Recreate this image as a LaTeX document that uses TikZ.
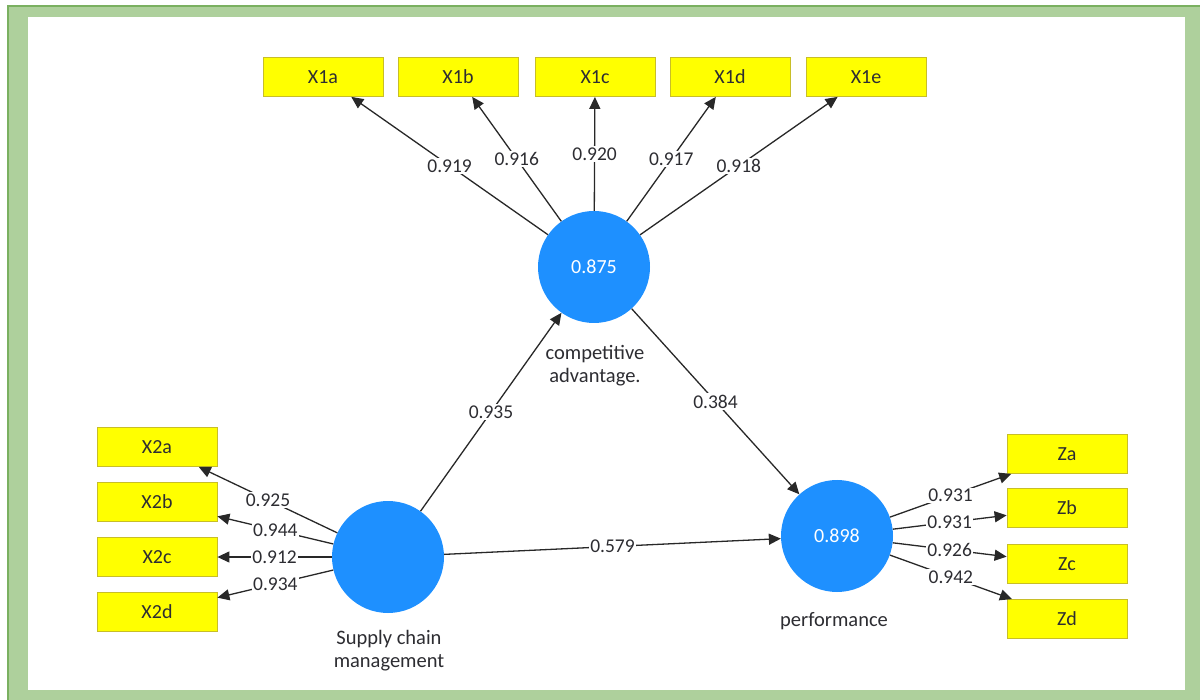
\documentclass[tikz,border=0pt]{standalone}
\usepackage{fontspec}
\setmainfont{Carlito}
\usetikzlibrary{arrows.meta}
\definecolor{gfill}{RGB}{174,208,156}
\definecolor{gline}{RGB}{122,176,96}
\definecolor{boxy}{RGB}{255,255,0}
\definecolor{boxline}{RGB}{200,190,40}
\definecolor{lvblue}{RGB}{30,144,255}
\definecolor{txt}{RGB}{45,45,50}
\definecolor{edgec}{RGB}{40,40,40}
\tikzset{
  ind/.style={draw=boxline, line width=0.8pt, fill=boxy, minimum width=120pt, minimum height=39pt, inner sep=0pt, font=\fontsize{20}{22}\selectfont, text=txt},
  lv/.style={circle, fill=lvblue, minimum size=112pt, inner sep=0pt, font=\fontsize{20}{22}\selectfont, text=white},
  lvname/.style={align=center, font=\fontsize{20.5}{23}\selectfont, text=txt},
  conn/.style={draw=edgec, line width=1.3pt, -{Triangle[length=12pt,width=11pt]}},
  wt/.style={fill=white, inner sep=1.5pt, font=\fontsize{19.5}{22}\selectfont, text=txt, midway}
}
\begin{document}
\begin{tikzpicture}[x=1pt,y=-1pt]
\useasboundingbox (0,0) rectangle (1200,700);
\fill[white] (0,0) rectangle (1200,700);
\fill[gfill] (8,6) rectangle (1200,700);
\draw[gline, line width=1.5pt] (8,700) -- (8,6) -- (1200,6);
\fill[white] (28,17) rectangle (1185,690);

% latent variables
\node[lv] (ca) at (594,267) {0.875};
\node[lv] (scm) at (388,557) {};
\node[lv] (perf) at (837,536) {0.898};
\node[lvname] (caname) at (595,366) {competitive\\advantage.};
\node[lvname] (scmname) at (389,651) {Supply chain\\management};
\node[lvname] (perfname) at (834,621) {performance};

% indicators
\node[ind] (x1a) at (323,77) {X1a};
\node[ind] (x1b) at (458,77) {X1b};
\node[ind] (x1c) at (595,77) {X1c};
\node[ind] (x1d) at (730,77) {X1d};
\node[ind] (x1e) at (866,77) {X1e};

\node[ind] (x2a) at (157,447) {X2a};
\node[ind] (x2b) at (157,502) {X2b};
\node[ind] (x2c) at (157,557) {X2c};
\node[ind] (x2d) at (157,612) {X2d};

\node[ind] (za) at (1067,454) {Za};
\node[ind] (zb) at (1067,508) {Zb};
\node[ind] (zc) at (1067,564) {Zc};
\node[ind] (zd) at (1067,619) {Zd};

% outer loadings
\draw[conn] (ca) -- node[wt]{0.919} (x1a);
\draw[conn] (ca) -- node[wt]{0.916} (x1b);
\draw[conn] (ca) -- node[wt]{0.920} (x1c);
\draw[conn] (ca) -- node[wt]{0.917} (x1d);
\draw[conn] (ca) -- node[wt]{0.918} (x1e);

\draw[conn] (scm) -- node[wt]{0.925} (x2a);
\draw[conn] (scm) -- node[wt]{0.944} (x2b);
\draw[conn] (scm) -- node[wt]{0.912} (x2c);
\draw[conn] (scm) -- node[wt]{0.934} (x2d);

\draw[conn] (perf) -- node[wt]{0.931} (za);
\draw[conn] (perf) -- node[wt]{0.931} (zb);
\draw[conn] (perf) -- node[wt]{0.926} (zc);
\draw[conn] (perf) -- node[wt]{0.942} (zd);

% paths
\draw[conn] (scm) -- node[wt]{0.935} (ca);
\draw[conn] (ca) -- node[wt]{0.384} (perf);
\draw[conn] (scm) -- node[wt]{0.579} (perf);
\end{tikzpicture}
\end{document}
